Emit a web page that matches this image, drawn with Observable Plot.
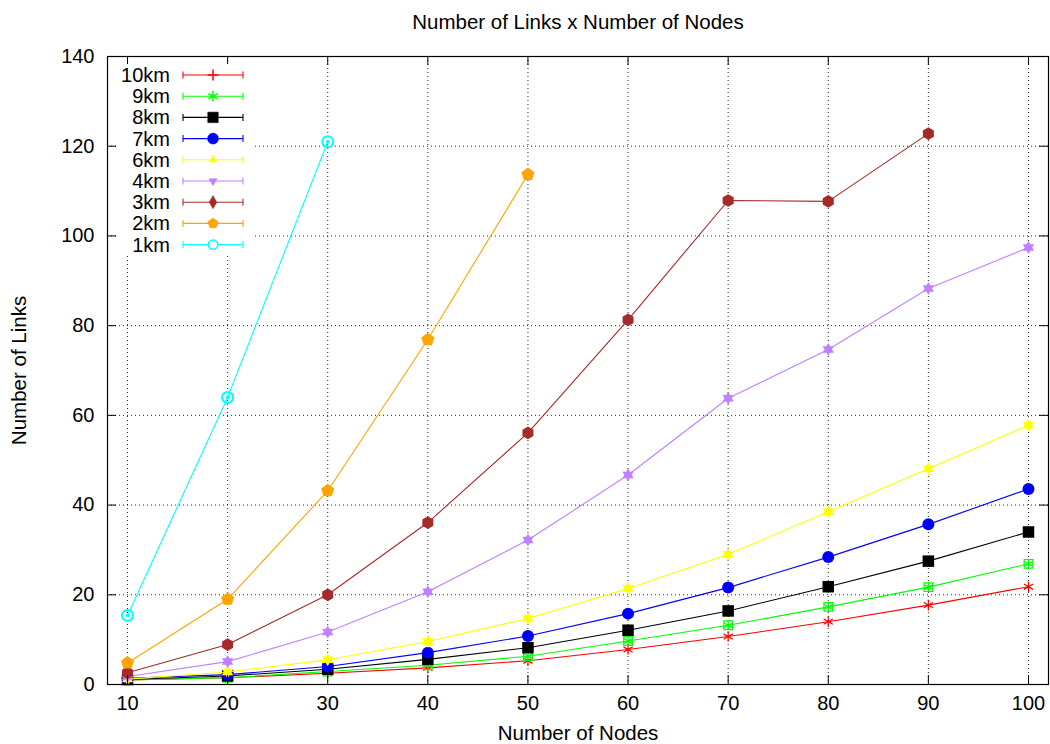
<!DOCTYPE html>
<html><head><meta charset="utf-8">
<script src="https://cdn.jsdelivr.net/npm/d3@7"></script>
<script src="https://cdn.jsdelivr.net/npm/@observablehq/plot@0.6"></script>
<style>body{margin:0;background:#fff}#chart{width:1050px;height:744px}</style>
</head><body><div id="chart"></div>
<script>
// ---------- data ----------
const title = "Number of Links x Number of Nodes";
const xLabel = "Number of Nodes";
const yLabel = "Number of Links";
const nodes = [10, 20, 30, 40, 50, 60, 70, 80, 90, 100];
const xTicks = [10, 20, 30, 40, 50, 60, 70, 80, 90, 100];
const yTicks = [0, 20, 40, 60, 80, 100, 120, 140];
const seriesNames = ["10km", "9km", "8km", "7km", "6km", "4km", "3km", "2km", "1km"];
const links10km = [1.0, 1.5, 2.5, 3.7, 5.3, 7.8, 10.7, 14.0, 17.7, 21.8];
const links9km  = [1.0, 1.5, 2.9, 4.3, 6.3, 9.7, 13.2, 17.3, 21.7, 26.9];
const links8km  = [1.1, 1.9, 3.4, 5.6, 8.2, 12.1, 16.4, 21.8, 27.5, 34.0];
const links7km  = [1.4, 2.2, 4.0, 7.1, 10.8, 15.8, 21.6, 28.4, 35.7, 43.6];
const links6km  = [1.2, 2.8, 5.5, 9.6, 14.7, 21.4, 29.0, 38.5, 48.1, 57.8];
const links4km  = [1.8, 5.1, 11.7, 20.7, 32.2, 46.7, 63.8, 74.7, 88.3, 97.4];
const links3km  = [2.6, 8.9, 20.0, 36.1, 56.1, 81.3, 107.9, 107.7, 122.8];
const links2km  = [4.8, 19.0, 43.2, 76.9, 113.7];
const links1km  = [15.4, 64.0, 121.0];
const seriesValues = [links10km, links9km, links8km, links7km, links6km, links4km, links3km, links2km, links1km];

// ---------- styles ----------
const W = 1050, H = 744, mL = 107, mR = 2, mT = 56, mB = 60;
const innerW = W - mL - mR, innerH = H - mT - mB;
const FONT = "'Liberation Sans', Arial, Helvetica, sans-serif";

const triUp = {draw(c, s) {
  const r = Math.sqrt(s / Math.PI) * 1.3;
  c.moveTo(0, -r); c.lineTo(0.866 * r, 0.5 * r); c.lineTo(-0.866 * r, 0.5 * r); c.closePath();
}};
const triDown = {draw(c, s) {
  const r = Math.sqrt(s / Math.PI) * 1.3;
  c.moveTo(0, r); c.lineTo(-0.866 * r, -0.5 * r); c.lineTo(0.866 * r, -0.5 * r); c.closePath();
}};
const hexagram = {draw(c, s) {
  const r = Math.sqrt(s / Math.PI) * 1.3;
  c.moveTo(0, -r); c.lineTo(0.866 * r, 0.5 * r); c.lineTo(-0.866 * r, 0.5 * r); c.closePath();
  c.moveTo(0, r); c.lineTo(-0.866 * r, -0.5 * r); c.lineTo(0.866 * r, -0.5 * r); c.closePath();
}};
const pentagon = {draw(c, s) {
  const r = Math.sqrt(s / Math.PI) * 1.15;
  for (let i = 0; i < 5; i++) {
    const a = -Math.PI / 2 + i * 2 * Math.PI / 5;
    const px = r * Math.cos(a), py = r * Math.sin(a);
    if (i === 0) c.moveTo(px, py); else c.lineTo(px, py);
  }
  c.closePath();
}};

const styles = [
  {color: "#ff0000", dots: [{symbol: "asterisk", r: 5, fill: "none", stroke: true}], legend: {type: d3.symbolPlus, fill: false, size: 40}},
  {color: "#00ff00", dots: [{symbol: "square2", r: 5.5, fill: "none", stroke: true}, {symbol: "asterisk", r: 4.5, fill: "none", stroke: true}], legend: {type: d3.symbolAsterisk, fill: false, size: 80}},
  {color: "#000000", dots: [{symbol: "square", r: 6.5, fill: true}], legend: {type: d3.symbolSquare, fill: true, size: 110}},
  {color: "#0000ff", dots: [{symbol: "circle", r: 6, fill: true}], legend: {type: d3.symbolCircle, fill: true, size: 95}},
  {color: "#ffff00", dots: [{symbol: hexagram, r: 5, fill: true}], legend: {type: triUp, fill: true, size: 40}},
  {color: "#c080ff", dots: [{symbol: hexagram, r: 5, fill: true}], legend: {type: triDown, fill: true, size: 40}},
  {color: "#a52a2a", dots: [{symbol: "hexagon", r: 5.5, fill: true}], legend: {type: d3.symbolDiamond, fill: true, size: 50}},
  {color: "#ffa500", dots: [{symbol: pentagon, r: 6, fill: true}], legend: {type: pentagon, fill: true, size: 70}},
  {color: "#00ffff", dots: [{symbol: "circle", r: 5.5, fill: "none", stroke: true, sw: 2}, {symbol: "circle", r: 1.8, fill: true}], legend: {type: d3.symbolCircle, fill: false, size: 70}}
];

const tables = seriesValues.map((vals, i) =>
  vals.map((v, j) => ({series: seriesNames[i], nodes: nodes[j], links: v})));

const marks = [
  Plot.gridX(xTicks, {stroke: "#000", strokeOpacity: 0.85, strokeDasharray: "1,3", strokeWidth: 1}),
  Plot.gridY(yTicks, {stroke: "#000", strokeOpacity: 0.85, strokeDasharray: "1,3", strokeWidth: 1})
];
tables.forEach((t, i) => {
  const st = styles[i];
  marks.push(Plot.line(t, {x: "nodes", y: "links", stroke: st.color, strokeWidth: 1.1}));
  st.dots.forEach(d => {
    marks.push(Plot.dot(t, {
      x: "nodes", y: "links", symbol: () => d.symbol, r: d.r,
      fill: d.fill === true ? st.color : "none",
      stroke: d.stroke ? st.color : "none",
      strokeWidth: d.sw || 1.2
    }));
  });
});
// inward ticks on all four sides
marks.push(
  Plot.ruleX(xTicks, {x: d => d, insetTop: innerH - 9, stroke: "#000"}),
  Plot.ruleX(xTicks, {x: d => d, insetBottom: innerH - 9, stroke: "#000"}),
  Plot.ruleY(yTicks, {y: d => d, insetRight: innerW - 9, stroke: "#000"}),
  Plot.ruleY(yTicks, {y: d => d, insetLeft: innerW - 9, stroke: "#000"}),
  Plot.frame({stroke: "#000", strokeWidth: 1.2}),
  Plot.axisX(xTicks, {tickSize: 0, tickPadding: 11, label: null, fontSize: 20}),
  Plot.axisY(yTicks, {tickSize: 0, tickPadding: 13, label: null, fontSize: 20}),
  Plot.text([title], {text: d => d, frameAnchor: "top", lineAnchor: "middle", dy: -34, fontSize: 20.5}),
  Plot.text([xLabel], {text: d => d, frameAnchor: "bottom", lineAnchor: "middle", dy: 49, fontSize: 20.5}),
  Plot.text([yLabel], {text: d => d, frameAnchor: "left", lineAnchor: "middle", dx: -88, rotate: -90, textAnchor: "middle", fontSize: 20.5})
);

const svg = Plot.plot({
  width: W, height: H,
  marginLeft: mL, marginRight: mR, marginTop: mT, marginBottom: mB,
  x: {domain: [8, 102], type: "linear"},
  y: {domain: [0, 140], type: "linear"},
  style: {fontFamily: FONT, fontSize: "20px", color: "#000", background: "#fff", overflow: "visible"},
  marks
});

// ---------- legend (opaque key box, top-left inside the frame) ----------
const g = d3.select(svg).append("g").attr("font-family", FONT).attr("font-size", 20);
g.append("rect").attr("x", 117).attr("y", 64).attr("width", 137).attr("height", 192).attr("fill", "#fff");
seriesNames.forEach((name, i) => {
  const y = 75 + 21.2 * i, st = styles[i];
  g.append("text").attr("x", 170).attr("y", y).attr("dy", "0.35em").attr("text-anchor", "end").attr("fill", "#000").text(name);
  g.append("line").attr("x1", 183).attr("x2", 243).attr("y1", y).attr("y2", y).attr("stroke", st.color).attr("stroke-width", 1.1);
  [183, 243].forEach(x => g.append("line").attr("x1", x).attr("x2", x).attr("y1", y - 3.5).attr("y2", y + 3.5).attr("stroke", st.color).attr("stroke-width", 1.1));
  const lg = st.legend;
  g.append("path").attr("transform", `translate(213,${y})`)
    .attr("d", d3.symbol(lg.type, lg.size)())
    .attr("fill", lg.fill ? st.color : (name === "1km" ? "#fff" : "none"))
    .attr("stroke", st.color).attr("stroke-width", lg.fill ? 0.5 : 1.5);
});

document.getElementById("chart").appendChild(svg);
</script>
</body></html>
